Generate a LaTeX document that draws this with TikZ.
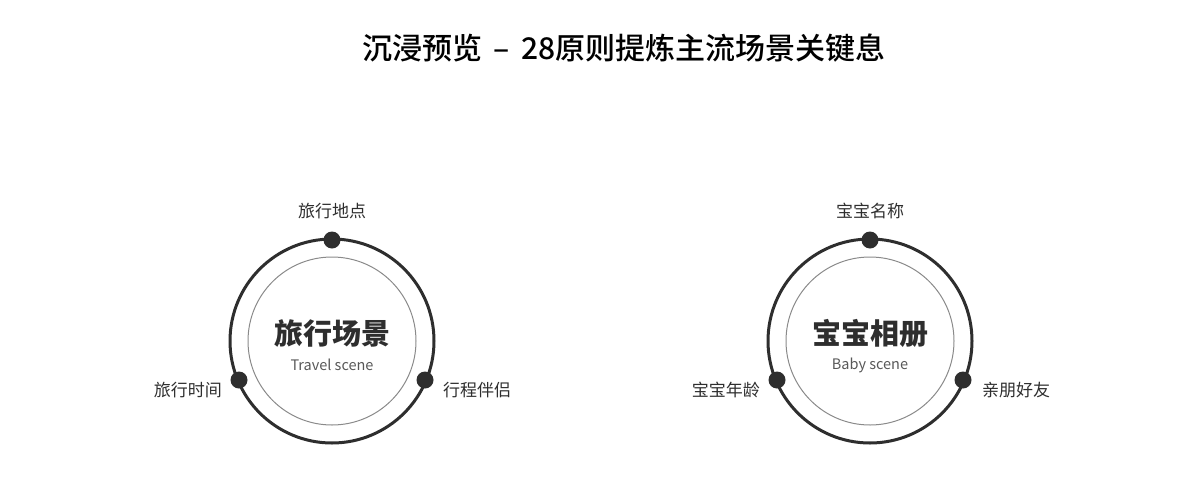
\documentclass[tikz,border=0pt]{standalone}
\usepackage{fontspec}
\setmainfont{Noto Sans CJK SC}
\newfontfamily\cjkmid{Noto Sans CJK SC Medium}
\usetikzlibrary{positioning}
\definecolor{ink}{HTML}{2E2E2E}
\definecolor{ringgray}{HTML}{8A8A8A}
\tikzset{ring/.style={draw=ink, line width=3pt}}
\tikzset{inring/.style={draw=ringgray, line width=1pt}}
\tikzset{knob/.style={circle, fill=ink, inner sep=0pt, minimum size=17pt}}
\tikzset{l/.style={font=\fontsize{17}{17}\selectfont, text=ink, inner sep=0pt}}
\tikzset{big/.style={font=\fontsize{29}{29}\selectfont\bfseries, text=ink, inner sep=0pt}}
\tikzset{m/.style={font=\fontsize{14.5}{14.5}\selectfont, text=ink!80, inner sep=0pt}}
\newcommand{\scenering}{
  \draw[ring] (0,0) circle [radius=102pt];
  \draw[inring] (0,0) circle [radius=84pt];
  \node[knob] (top) at (0,-101) {};
  \node[knob] (left) at (-93,39) {};
  \node[knob] (right) at (93,39) {};
}

\begin{document}
\begin{tikzpicture}[x=1pt, y=-1pt]
    \useasboundingbox (0,0) rectangle (1200,485);
    \node[font=\cjkmid\fontsize{30}{30}\selectfont, text=black, inner sep=0pt] (title) at (624,48) {沉浸预览 \,–\, 28原则提炼主流场景关键息};
    % travel
    \begin{scope}[shift={(332,341)}, name prefix=t-]
      \scenering
      \node[big] (name) at (0,-8) {旅行场景};
      \node[m] (sub) at (0,24) {Travel scene};
      \node[l] (where) at (0,-130) {旅行地点};
      \node[l, anchor=east] (when) at (-110,49) {旅行时间};
      \node[l, anchor=west] (who) at (111,49) {行程伴侣};
    \end{scope}
    % baby
    \begin{scope}[shift={(870,341)}, name prefix=b-]
      \scenering
      \node[big] (name) at (0,-8) {宝宝相册};
      \node[m] (sub) at (0,24) {Baby scene};
      \node[l] (what) at (0,-130) {宝宝名称};
      \node[l, anchor=east] (age) at (-110,49) {宝宝年龄};
      \node[l, anchor=west] (friends) at (112,49) {亲朋好友};
    \end{scope}
  \end{tikzpicture}
\end{document}
